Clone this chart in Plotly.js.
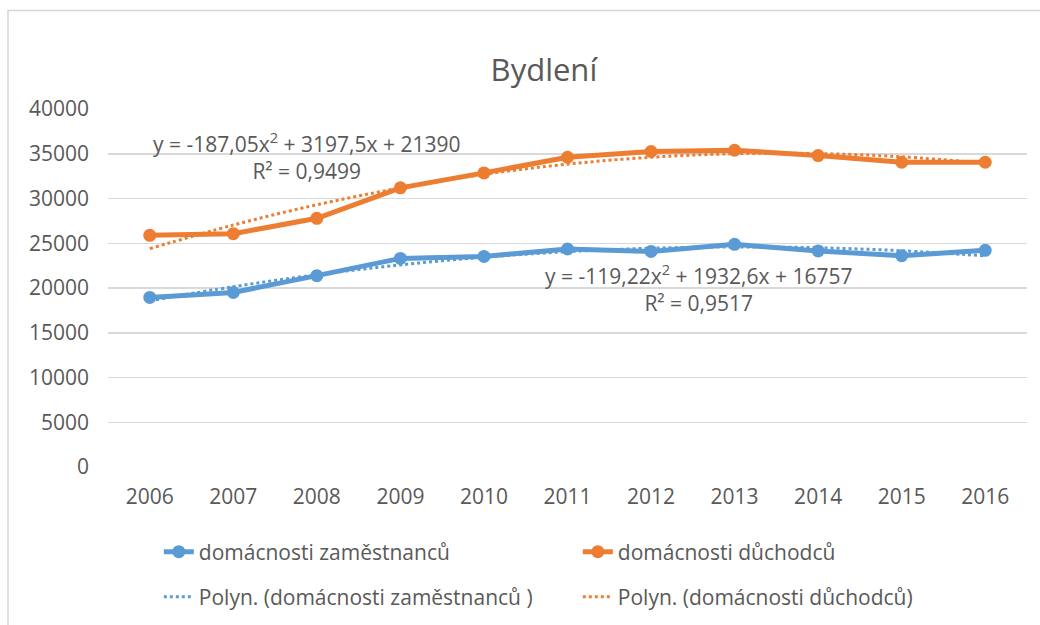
<!DOCTYPE html>
<html><head><meta charset="utf-8">
<script src="https://cdn.plot.ly/plotly-3.0.1.min.js"></script>
<style>html,body{margin:0;padding:0;background:#fff}#chart{width:1040px;height:625px}</style>
</head><body><div id="chart"></div>
<script>
const years = ['2006','2007','2008','2009','2010','2011','2012','2013','2014','2015','2016'];
const zamestnanci = [18950, 19510, 21380, 23310, 23530, 24360, 24090, 24880, 24140, 23610, 24210];
const duchodci = [25880, 26070, 27790, 31190, 32860, 34610, 35250, 35390, 34800, 34050, 34050];
// polynomial trendline values as drawn (from the displayed trend equations)
const trendZamestnanci = [18570, 20145, 21482, 22580, 23440, 24061, 24443, 24588, 24494, 24161, 23590];
const trendDuchodci = [24400, 27037, 29299, 31187, 32701, 33841, 34607, 34999, 35016, 34660, 33929];
const yTicks = [0, 5000, 10000, 15000, 20000, 25000, 30000, 35000, 40000];
const names = ['domácnosti zaměstnanců', 'domácnosti důchodců', 'Polyn. (domácnosti zaměstnanců )', 'Polyn. (domácnosti důchodců)'];
const eqDuchodci = 'y = -187,05x<sup>2</sup> + 3197,5x + 21390<br>R² = 0,9499';
const eqZamestnanci = 'y = -119,22x<sup>2</sup> + 1932,6x + 16757<br>R² = 0,9517';

const BLUE = '#5B9BD5', ORANGE = '#ED7D31', TXT = '#595959', GRID = '#D9D9D9';
const FONT = 'Open Sans, DejaVu Sans, sans-serif';

const traces = [
  {x: years, y: zamestnanci, name: names[0], type: 'scatter', mode: 'lines+markers',
   line: {color: BLUE, width: 5}, marker: {color: BLUE, size: 13}, legend: 'legend'},
  {x: years, y: duchodci, name: names[1], type: 'scatter', mode: 'lines+markers',
   line: {color: ORANGE, width: 5}, marker: {color: ORANGE, size: 13}, legend: 'legend'},
  {x: years, y: trendZamestnanci, name: names[2], type: 'scatter', mode: 'lines',
   line: {color: BLUE, width: 3, dash: 'dot', shape: 'spline'}, legend: 'legend2'},
  {x: years, y: trendDuchodci, name: names[3], type: 'scatter', mode: 'lines',
   line: {color: ORANGE, width: 3, dash: 'dot', shape: 'spline'}, legend: 'legend2'}
];

const legendBase = {orientation: 'h', xanchor: 'left', yanchor: 'middle', entrywidth: 374,
  font: {family: FONT, size: 21, color: TXT}, bgcolor: 'rgba(0,0,0,0)'};

const layout = {
  width: 1040, height: 625,
  margin: {l: 108, r: 13, t: 109, b: 158, autoexpand: false},
  paper_bgcolor: '#fff', plot_bgcolor: '#fff',
  font: {family: FONT, size: 21, color: TXT},
  title: {text: 'Bydlení', font: {family: FONT, size: 31, color: TXT},
    xref: 'container', yref: 'container', x: 0.523, y: 0.888, xanchor: 'center', yanchor: 'middle'},
  xaxis: {type: 'category', range: [-0.5, 10.5], showgrid: false, zeroline: false,
    showline: false, ticks: '', ticklabelstandoff: 15, automargin: false,
    tickfont: {family: FONT, size: 21, color: TXT}},
  yaxis: {range: [0, 40000], tickvals: yTicks, ticktext: yTicks.map(String),
    showgrid: true, gridcolor: GRID, gridwidth: 1.5, zeroline: false, showline: false, automargin: false,
    ticks: '', ticklabelstandoff: 18, tickfont: {family: FONT, size: 21, color: TXT}},
  showlegend: true,
  legend: Object.assign({}, legendBase, {x: 0.0553, y: -0.2374}),
  legend2: Object.assign({}, legendBase, {x: 0.0553, y: -0.3631}),
  annotations: [
    {text: eqDuchodci, xref: 'x', yref: 'y', x: 1.87, y: 34750, showarrow: false,
     xanchor: 'center', yanchor: 'middle', align: 'center', font: {family: FONT, size: 21, color: TXT}},
    {text: eqZamestnanci, xref: 'x', yref: 'y', x: 6.57, y: 20000, showarrow: false,
     xanchor: 'center', yanchor: 'middle', align: 'center', font: {family: FONT, size: 21, color: TXT}}
  ],
  shapes: [
    {type: 'rect', xref: 'paper', yref: 'paper', x0: -0.1088, x1: 1.2, y0: -0.8, y1: 1.2751,
     line: {color: '#D6D6D6', width: 1.5}, fillcolor: 'rgba(0,0,0,0)', layer: 'below'}
  ]
};

Plotly.newPlot('chart', traces, layout, {displayModeBar: false, staticPlot: true});
</script></body></html>
